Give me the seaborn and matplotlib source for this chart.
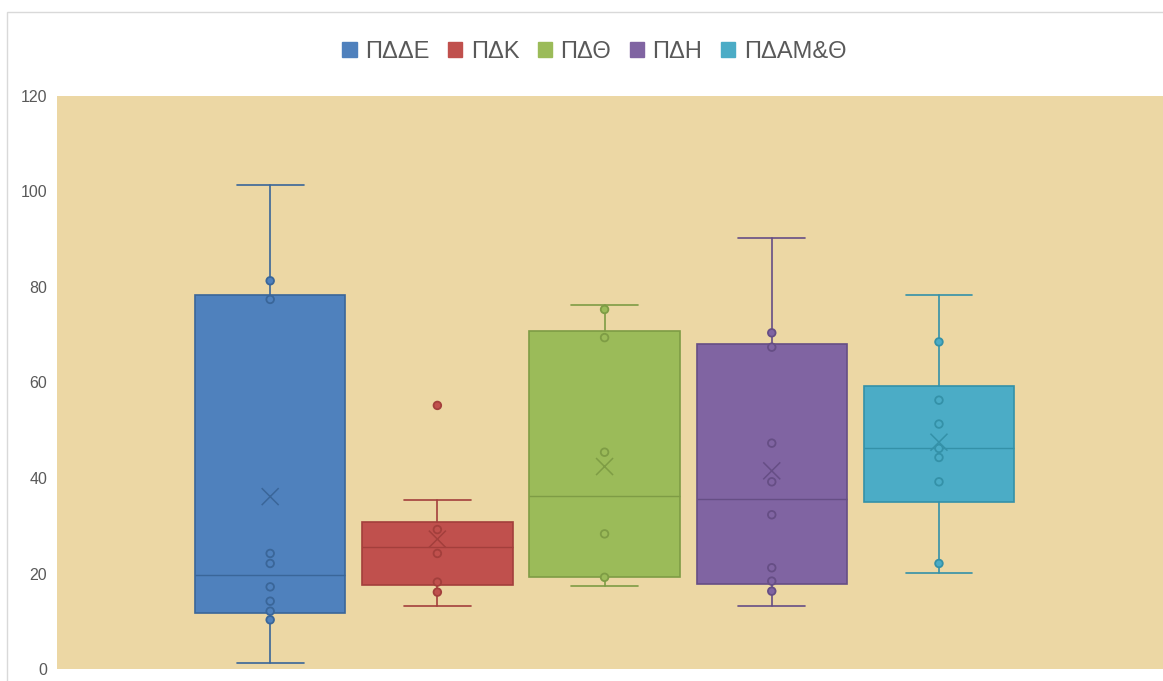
import numpy as np
import pandas as pd
import matplotlib.pyplot as plt
import seaborn as sns
from matplotlib.patches import Patch, Rectangle

# valeurs (Excel box & whisker)
groups = ['ΠΔΔΕ', 'ΠΔΚ', 'ΠΔΘ', 'ΠΔΗ', 'ΠΔΑΜ&Θ']
whis_low = [1.3, 13.2, 17.3, 13.1, 20.1]
q1 = [11.8, 17.6, 19.3, 17.7, 34.9]
medians = [19.6, 25.6, 36.3, 35.7, 46.2]
q3 = [78.4, 30.8, 70.7, 68.1, 59.3]
whis_high = [101.4, 35.3, 76.3, 90.3, 78.4]
means = [36.1, 27.2, 42.4, 41.5, 47.5]

pts_pdde = [81.3, 77.4, 24.2, 22.1, 17.2, 14.2, 12.1, 10.3]
pts_pdk = [55.2, 29.2, 24.2, 18.2, 16.1]
pts_pdth = [75.3, 69.4, 45.4, 28.3, 19.2]
pts_pdh = [70.4, 67.4, 47.3, 39.2, 32.3, 21.2, 18.4, 16.3]
pts_pdamth = [68.5, 56.3, 51.3, 46.2, 44.3, 39.2, 22.1]
points = [pts_pdde, pts_pdk, pts_pdth, pts_pdh, pts_pdamth]

fill_colors = ['#4F81BD', '#C0504D', '#9BBB59', '#8064A2', '#4BACC6']
edge_colors = ['#3A6699', '#A33F3C', '#7E9C45', '#664E85', '#3491A8']

sns.set_theme(style='white')
plt.rcParams['font.family'] = ['Liberation Sans', 'DejaVu Sans']

fig = plt.figure(figsize=(11.63, 6.81), dpi=100)
ax = fig.add_axes([57 / 1163, 1 - 669 / 681, 1 - 57 / 1163, (669 - 96) / 681])
ax.set_facecolor('#ECD7A4')

# boites
stats = []
for i, g in enumerate(groups):
    stats.append(dict(label=g, whislo=whis_low[i], q1=q1[i], med=medians[i],
                      q3=q3[i], whishi=whis_high[i], fliers=[]))
bp = ax.bxp(stats, positions=range(len(groups)), widths=0.9, patch_artist=True,
            showfliers=False, capwidths=0.4)
for i in range(len(groups)):
    bp['boxes'][i].set(facecolor=fill_colors[i], edgecolor=edge_colors[i], linewidth=1.2)
    bp['medians'][i].set(color=edge_colors[i], linewidth=1)
    for k in (2 * i, 2 * i + 1):
        bp['whiskers'][k].set(color=edge_colors[i], linewidth=1.2)
        bp['caps'][k].set(color=edge_colors[i], linewidth=1.2)

# points
pts = pd.DataFrame({
    'group': [g for g, p in zip(groups, points) for _ in p],
    'pos': [i for i, p in enumerate(points) for _ in p],
    'value': [v for p in points for v in p],
})
edge_map = dict(zip(groups, edge_colors))
sns.scatterplot(data=pts, x='pos', y='value', hue='group',
                palette=dict(zip(groups, fill_colors)),
                edgecolor=pts['group'].map(edge_map).tolist(),
                s=30, linewidth=1.3, legend=False, zorder=4, ax=ax)

# moyennes
mdf = pd.DataFrame({'group': groups, 'pos': range(len(groups)), 'mean': means})
sns.scatterplot(data=mdf, x='pos', y='mean', hue='group', palette=edge_map,
                marker='x', s=150, linewidth=1.1, legend=False, zorder=5, ax=ax)

ax.set_xlim(-1.275, 5.34)
ax.set_ylim(0, 120)
ax.set_yticks(range(0, 121, 20))
ax.set_xticks([])
ax.set_xlabel('')
ax.set_ylabel('')
ax.tick_params(axis='y', length=0, pad=7, labelsize=11.5, labelcolor='#595959')
for s in ax.spines.values():
    s.set_visible(False)

# légende
handles = [Patch(facecolor=c, edgecolor=c) for c in fill_colors]
fig.legend(handles, groups, loc='center', bbox_to_anchor=(0.511, 0.924), ncol=5,
           frameon=False, fontsize=17, handlelength=0.6, handleheight=0.6,
           handletextpad=0.35, columnspacing=0.8, labelcolor='#595959')

# cadre du graphique
fig.patches.append(Rectangle((7 / 1163, -0.1), 1.2, 1 - 12 / 681 + 0.1,
                             transform=fig.transFigure, fill=False,
                             edgecolor='#D9D9D9', linewidth=1))

fig.savefig('out.png', dpi=100)
